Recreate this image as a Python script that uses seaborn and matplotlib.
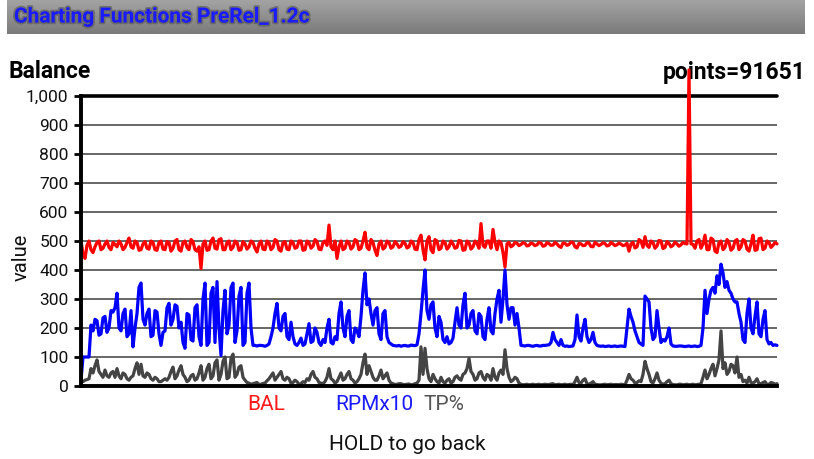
import numpy as np
import pandas as pd
import matplotlib
matplotlib.use("Agg")
import matplotlib.pyplot as plt
import matplotlib.patheffects as pe
import seaborn as sns

# Logged channels, one sample per screen step across the recording
bal = [500, 455, 440, 485, 500, 470, 460, 480, 495, 500, 470, 475, 490, 500, 478, 470, 495, 488, 480, 500,
       490, 470, 478, 495, 510, 480, 475, 500, 495, 468, 470, 490, 498, 475, 472, 500, 495, 470, 468, 495,
       500, 472, 470, 498, 495, 465, 475, 500, 505, 470, 465, 495, 500, 478, 470, 505, 498, 470, 465, 480,
       405, 490, 500, 468, 470, 500, 510, 475, 472, 505, 508, 470, 470, 495, 500, 470, 478, 500, 495, 468,
       470, 498, 490, 472, 480, 500, 495, 475, 462, 490, 500, 472, 470, 500, 495, 470, 478, 505, 500, 470,
       465, 495, 498, 472, 470, 500, 495, 475, 478, 500, 500, 468, 470, 500, 495, 475, 482, 505, 498, 472,
       470, 495, 500, 485, 555, 480, 470, 500, 440, 480, 500, 470, 475, 500, 495, 472, 480, 505, 500, 470,
       475, 500, 530, 478, 470, 505, 495, 468, 450, 490, 500, 472, 478, 500, 495, 475, 480, 498, 490, 478,
       482, 498, 492, 476, 480, 500, 495, 472, 470, 505, 520, 470, 435, 500, 515, 470, 460, 505, 500, 470,
       475, 500, 495, 472, 480, 500, 490, 475, 478, 502, 500, 468, 470, 500, 495, 472, 480, 500, 492, 475,
       560, 485, 478, 500, 500, 475, 540, 495, 470, 500, 495, 460, 410, 490, 495, 480, 485, 495, 492, 484,
       488, 494, 492, 483, 485, 493, 490, 484, 487, 495, 493, 482, 484, 494, 491, 485, 486, 495, 490, 482,
       478, 493, 492, 485, 488, 496, 495, 480, 476, 492, 490, 484, 485, 494, 493, 481, 480, 495, 490, 484,
       488, 494, 491, 483, 485, 495, 490, 484, 487, 493, 489, 484, 486, 492, 465, 490, 495, 476, 480, 505,
       500, 478, 515, 485, 478, 500, 495, 475, 483, 502, 500, 474, 478, 498, 492, 480, 485, 496, 490, 482,
       487, 495, 491, 490, 1090, 490, 488, 475, 500, 505, 475, 490, 520, 470, 470, 510, 505, 465, 460, 495,
       500, 470, 478, 505, 495, 468, 475, 500, 505, 470, 480, 505, 500, 472, 465, 490, 520, 468, 470, 508,
       510, 470, 475, 500, 495, 478, 485, 495, 490]

rpm = [20, 100, 100, 100, 100, 210, 190, 230, 225, 175, 180, 235, 240, 185, 200, 260, 255, 270, 320, 200,
       190, 250, 265, 170, 180, 260, 135, 200, 250, 340, 355, 230, 210, 250, 265, 170, 175, 260, 255, 180,
       140, 185, 190, 270, 285, 210, 230, 280, 275, 200, 220, 150, 130, 250, 245, 160, 155, 270, 280, 170,
       140, 300, 355, 140, 150, 320, 340, 150, 360, 200, 105, 260, 330, 180, 210, 340, 355, 150, 190, 310,
       340, 140, 150, 320, 355, 200, 140, 140, 138, 140, 140, 139, 137, 140, 145, 170, 200, 250, 285, 200,
       190, 240, 250, 170, 160, 220, 170, 145, 140, 150, 165, 140, 145, 180, 215, 150, 155, 200, 185, 150,
       140, 160, 150, 200, 230, 150, 145, 170, 160, 250, 290, 200, 170, 240, 260, 160, 150, 200, 190, 170,
       240, 330, 390, 280, 300, 250, 210, 260, 270, 180, 160, 250, 260, 170, 150, 145, 140, 139, 138, 140,
       137, 139, 140, 138, 138, 141, 140, 139, 142, 180, 250, 330, 400, 260, 230, 280, 290, 200, 170, 240,
       220, 160, 150, 170, 145, 150, 165, 220, 270, 210, 200, 280, 320, 200, 210, 250, 260, 190, 180, 250,
       240, 170, 160, 230, 270, 190, 180, 250, 300, 330, 220, 300, 400, 280, 230, 270, 270, 210, 250, 200,
       140, 139, 138, 140, 140, 138, 137, 139, 140, 138, 138, 140, 140, 141, 142, 150, 185, 160, 150, 140,
       160, 140, 137, 138, 136, 137, 138, 160, 245, 170, 155, 200, 230, 170, 150, 160, 185, 150, 140, 138,
       137, 138, 136, 137, 138, 136, 137, 138, 136, 137, 138, 137, 136, 200, 265, 240, 220, 190, 170, 150,
       145, 140, 310, 300, 290, 200, 160, 170, 260, 200, 150, 160, 155, 170, 200, 145, 138, 137, 137, 138,
       138, 137, 136, 137, 138, 136, 137, 138, 136, 137, 140, 200, 330, 250, 300, 330, 340, 320, 380, 350,
       420, 390, 340, 360, 330, 320, 300, 290, 290, 250, 220, 160, 150, 250, 300, 200, 180, 240, 290, 180,
       170, 230, 260, 160, 145, 150, 140, 142, 140]

tp = [20, 15, 20, 22, 25, 60, 45, 70, 90, 50, 40, 30, 55, 35, 30, 45, 50, 30, 60, 35,
      25, 45, 40, 25, 20, 30, 35, 60, 80, 40, 75, 35, 30, 45, 40, 25, 20, 30, 25, 15,
      15, 20, 25, 20, 30, 50, 65, 25, 35, 55, 70, 40, 30, 15, 20, 35, 40, 20, 25, 45,
      70, 20, 30, 60, 75, 25, 35, 80, 90, 20, 40, 85, 100, 25, 30, 95, 110, 30, 40, 65,
      70, 30, 20, 12, 10, 6, 8, 10, 12, 5, 6, 9, 10, 18, 25, 35, 45, 20, 30, 40,
      50, 25, 20, 30, 25, 10, 12, 20, 15, 6, 8, 15, 12, 25, 20, 40, 50, 30, 25, 12,
      10, 8, 15, 30, 60, 25, 20, 10, 15, 30, 45, 20, 25, 40, 50, 25, 20, 10, 15, 25,
      40, 80, 110, 40, 70, 50, 30, 20, 20, 35, 55, 25, 35, 45, 20, 10, 8, 5, 6, 8,
      8, 5, 5, 6, 7, 4, 5, 8, 10, 20, 135, 40, 130, 60, 25, 15, 40, 25, 15, 10,
      30, 15, 10, 20, 25, 10, 15, 30, 35, 25, 20, 40, 45, 60, 95, 50, 40, 20, 25, 45,
      50, 30, 20, 40, 35, 20, 60, 30, 20, 45, 55, 40, 125, 60, 30, 15, 20, 30, 25, 10,
      6, 4, 5, 6, 4, 5, 6, 4, 5, 6, 4, 5, 6, 5, 5, 7, 8, 4, 5, 6,
      4, 5, 6, 4, 5, 6, 4, 15, 30, 12, 10, 20, 25, 8, 6, 10, 15, 6, 5, 4,
      4, 5, 6, 4, 5, 6, 4, 5, 5, 4, 6, 5, 4, 20, 40, 25, 20, 10, 12, 18,
      15, 40, 85, 60, 40, 15, 10, 25, 45, 20, 10, 6, 8, 15, 20, 8, 5, 4, 4, 6,
      6, 4, 5, 6, 4, 5, 6, 4, 5, 6, 8, 30, 55, 25, 40, 60, 75, 35, 60, 90,
      190, 60, 80, 40, 50, 75, 70, 45, 100, 30, 40, 15, 20, 10, 30, 12, 10, 15, 25, 8,
      8, 12, 15, 5, 6, 12, 10, 6, 8]

assert len(bal) == len(rpm) == len(tp)

series_names = ["BAL", "RPMx10", "TP%"]
series_colors = ["#ff0000", "#0000ff", "#444444"]
y_ticks = list(range(0, 1001, 100))
y_tick_labels = [f"{v:,}" for v in y_ticks]
point_count = 91651

frames = []
for name, vals in zip(series_names, [bal, rpm, tp]):
    frames.append(pd.DataFrame({"sample": np.arange(len(vals)),
                                "value": vals, "series": name}))
df = pd.concat(frames, ignore_index=True)

sns.set_theme(style="white")
plt.rcParams["font.family"] = ["Roboto", "DejaVu Sans"]

W, H = 814, 459
fig = plt.figure(figsize=(W / 100, H / 100), dpi=100)
fig.patch.set_facecolor("white")

# Header bar with vertical gradient
hdr = fig.add_axes([7 / W, 1 - 34 / H, 798 / W, 34 / H])
grad = np.linspace(0.64, 0.48, 64).reshape(-1, 1)
hdr.imshow(grad, cmap="gray", vmin=0, vmax=1, aspect="auto",
           extent=[0, 1, 0, 1], origin="upper")
hdr.set_axis_off()
fig.text(14 / W, 1 - 17 / H, "Charting Functions PreRel_1.2c",
         color="#1a1aff", fontsize=15, fontweight="bold",
         ha="left", va="center",
         path_effects=[pe.withStroke(linewidth=2.5, foreground="#555555", alpha=0.6)])

fig.text(9 / W, 1 - 72 / H, "Balance", fontsize=16.5, fontweight="bold",
         ha="left", va="center", color="black")
fig.text(806 / W, 1 - 72 / H, f"points={point_count}", fontsize=16.5,
         fontweight="bold", ha="right", va="center", color="black")

ax = fig.add_axes([81 / W, 1 - 386 / H, 696 / W, 290 / H])
ax.set_zorder(5)
palette = dict(zip(series_names, series_colors))
sns.lineplot(data=df, x="sample", y="value", hue="series", palette=palette,
             estimator=None, linewidth=2.3, legend=False, ax=ax)
for ln in ax.get_lines():
    ln.set_clip_on(False)

n = len(bal)
ax.set_xlim(0, n - 1)
ax.set_ylim(0, 1000)
ax.set_xticks([])
ax.set_yticks(y_ticks)
ax.set_yticklabels(y_tick_labels)
ax.tick_params(axis="y", length=5, width=2, color="black", pad=4,
               labelsize=12.5, labelcolor="#111111", left=True)
for y in y_ticks[1:-1]:
    ax.axhline(y, color="#5a5a5a", linewidth=1.3, zorder=0.5)
ax.axhline(1000, color="black", linewidth=2.6, zorder=0.6, clip_on=False)
for side in ["right", "top"]:
    ax.spines[side].set_visible(False)
for side in ["left", "bottom"]:
    ax.spines[side].set_visible(True)
    ax.spines[side].set_color("black")
    ax.spines[side].set_linewidth(2.8)
    ax.spines[side].set_zorder(5)
ax.set_xlabel("")
ax.set_ylabel("value", fontsize=14.5, color="#111111")
ax.yaxis.set_label_coords(-0.072, 0.445)
ax.set_facecolor("white")

legend_x = [247, 335, 423]
legend_colors = ["#ff1a1a", "#1a1aff", "#555555"]
for x, name, c in zip(legend_x, series_names, legend_colors):
    fig.text(x / W, 1 - 404 / H, name, color=c, fontsize=15,
             ha="left", va="center")

fig.text(407 / W, 1 - 445 / H, "HOLD to go back", fontsize=15,
         ha="center", va="center", color="#111111")

fig.savefig("out.png", dpi=100)
